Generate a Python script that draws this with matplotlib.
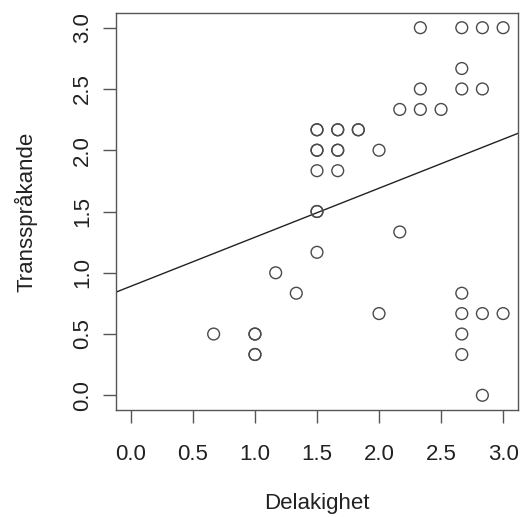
import matplotlib
matplotlib.use("Agg")
import matplotlib.pyplot as plt
import numpy as np

# Data (values on a 1/6 grid); repeated points appear bolder
delakighet = [2.333, 2.667, 2.833, 3.0,
              2.667,
              2.333, 2.667, 2.833,
              2.167, 2.333, 2.5,
              1.5, 1.5, 1.667, 1.667, 1.833, 1.833,
              1.5, 1.5, 1.667, 1.667, 2.0,
              1.5, 1.667,
              1.5, 1.5,
              2.167,
              1.5,
              1.167,
              1.333, 2.667,
              2.0, 2.667, 2.833, 3.0,
              0.667, 1.0, 1.0, 2.667,
              1.0, 1.0, 2.667,
              2.833]
transsprakande = [3.0, 3.0, 3.0, 3.0,
                  2.667,
                  2.5, 2.5, 2.5,
                  2.333, 2.333, 2.333,
                  2.167, 2.167, 2.167, 2.167, 2.167, 2.167,
                  2.0, 2.0, 2.0, 2.0, 2.0,
                  1.833, 1.833,
                  1.5, 1.5,
                  1.333,
                  1.167,
                  1.0,
                  0.833, 0.833,
                  0.667, 0.667, 0.667, 0.667,
                  0.5, 0.5, 0.5, 0.5,
                  0.333, 0.333, 0.333,
                  0.0]
line_intercept = 0.89
line_slope = 0.40
x_ticks = [0.0, 0.5, 1.0, 1.5, 2.0, 2.5, 3.0]
y_ticks = [0.0, 0.5, 1.0, 1.5, 2.0, 2.5, 3.0]
x_label = "Delakighet"
y_label = "Transspråkande"

plt.rcParams['font.family'] = ['Liberation Sans', 'DejaVu Sans']

fig = plt.figure(figsize=(5.21, 5.17), dpi=100)
ax = fig.add_axes([116/521, 1-410/517, (518-116)/521, (410-13)/517])

ax.scatter(delakighet, transsprakande, s=72, facecolors='none',
           edgecolors='#4a4a4a', linewidths=1.0, zorder=3)

xlim = (-0.12, 3.12)
ax.set_xlim(*xlim)
ax.set_ylim(-0.12, 3.12)
xs = np.array(xlim)
ax.plot(xs, line_intercept + line_slope * xs, color='#222222', lw=1.0, zorder=2)

ax.set_xticks(x_ticks)
ax.set_xticklabels([f"{t:.1f}" for t in x_ticks])
ax.set_yticks(y_ticks)
ax.set_yticklabels([f"{t:.1f}" for t in y_ticks], rotation=90, va='center')

for s in ax.spines.values():
    s.set_color('#555555')
    s.set_linewidth(1.0)

ax.tick_params(axis='both', direction='out', length=9.5, width=1.0,
               color='#555555', labelsize=16, labelcolor='#222222', pad=15)
ax.tick_params(axis='y', pad=7)

ax.set_xlabel(x_label, fontsize=16, color='#222222', labelpad=20)
ax.set_ylabel(y_label, fontsize=16, color='#222222', labelpad=25)

fig.savefig("out.png", dpi=100, facecolor='white')
